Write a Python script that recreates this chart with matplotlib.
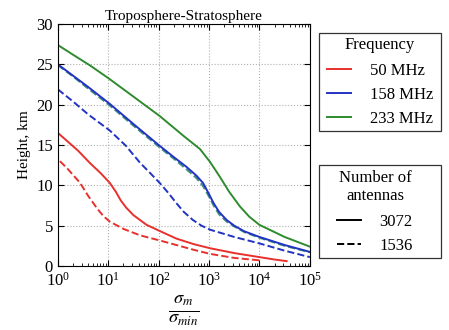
import matplotlib
matplotlib.use("Agg")
import matplotlib.pyplot as plt
from matplotlib.lines import Line2D
from matplotlib.patches import Rectangle
from matplotlib.ticker import LogLocator
import numpy as np

plt.rcParams["font.family"] = ["Liberation Serif", "DejaVu Serif"]
plt.rcParams["mathtext.fontset"] = "stix"

# log10(sigma_m / sigma_min) vs height (km)
red_solid_x = [0.0, 0.2, 0.4, 0.63, 0.85, 1.03, 1.15, 1.25, 1.36, 1.5, 1.76, 2.0,
               2.35, 2.7, 3.02, 3.5, 4.0, 4.3, 4.54]
red_solid_y = [16.5, 15.4, 14.3, 12.8, 11.5, 10.3, 9.2, 8.1, 7.2, 6.3, 5.1, 4.4,
               3.4, 2.7, 2.2, 1.6, 1.1, 0.8, 0.6]
red_dash_x = [0.04, 0.2, 0.44, 0.6, 0.77, 0.9, 1.03, 1.3, 1.63, 2.0, 2.35, 2.7,
              3.02, 3.5, 4.0]
red_dash_y = [13.0, 12.0, 10.3, 8.7, 7.2, 6.2, 5.5, 4.6, 3.8, 3.2, 2.6, 2.0,
              1.5, 1.0, 0.7]
blue_solid_x = [0.0, 0.3, 0.6, 1.03, 1.5, 2.02, 2.3, 2.55, 2.75, 2.88, 3.0, 3.09,
                3.2, 3.35, 3.5, 3.7, 4.0, 4.5, 5.0]
blue_solid_y = [25.0, 23.6, 22.2, 20.1, 17.6, 14.9, 13.5, 12.3, 11.2, 10.3, 8.9, 7.8,
                6.7, 5.7, 5.0, 4.3, 3.6, 2.6, 1.75]
blue_dash_x = [0.0, 0.3, 0.6, 1.03, 1.35, 1.63, 1.85, 2.02, 2.2, 2.35, 2.5, 2.68,
               2.85, 3.02, 3.5, 4.0, 4.5, 5.0]
blue_dash_y = [21.9, 20.4, 18.8, 16.8, 14.9, 12.8, 11.4, 10.3, 9.0, 7.8, 6.7, 5.7,
               5.0, 4.5, 3.6, 2.8, 1.9, 1.1]
green_solid_x = [0.0, 0.3, 0.63, 1.0, 1.5, 2.02, 2.5, 2.82, 3.02, 3.21, 3.4, 3.61,
                 3.8, 4.0, 4.5, 5.0]
green_solid_y = [27.4, 26.2, 24.9, 23.3, 21.0, 18.6, 16.1, 14.5, 12.9, 11.1, 9.2, 7.4,
                 6.1, 5.1, 3.6, 2.4]
green_dash_x = [0.0, 0.3, 0.6, 1.03, 1.5, 2.02, 2.3, 2.55, 2.75, 2.88, 3.0, 3.09,
                3.2, 3.35, 3.5, 3.7, 4.0, 4.5, 5.0]
green_dash_y = [24.9, 23.5, 22.0, 19.9, 17.4, 14.7, 13.3, 12.0, 10.9, 9.9, 8.6, 7.5,
                6.4, 5.5, 4.9, 4.2, 3.5, 2.5, 1.7]

freq_labels = ["50 MHz", "158 MHz", "233 MHz"]
ant_labels = ["3072", "1536"]
colors = ["#e8302c", "#2233c4", "#2e8b2e"]

W, H = 449, 330
fig = plt.figure(figsize=(W / 100, H / 100), dpi=100)
ax = fig.add_axes([0.129, 0.194, 0.561, 0.733])

series = [
    (red_solid_x, red_solid_y, colors[0], "-"),
    (red_dash_x, red_dash_y, colors[0], "--"),
    (green_dash_x, green_dash_y, "#3f8f7f", "--"),
    (blue_solid_x, blue_solid_y, colors[1], "-"),
    (blue_dash_x, blue_dash_y, colors[1], "--"),
    (green_solid_x, green_solid_y, colors[2], "-"),
]
for xs, ys, c, ls in series:
    ax.plot(10 ** np.array(xs), ys, color=c, ls=ls, lw=1.4)

ax.set_xscale("log")
ax.set_xlim(1, 1e5)
ax.set_ylim(0, 30)
ax.xaxis.set_major_locator(LogLocator(base=10, numticks=10))
ax.xaxis.set_minor_locator(LogLocator(base=10, subs=np.arange(2, 10), numticks=10))
ax.set_yticks([0, 5, 10, 15, 20, 25, 30])
ax.grid(True, which="major", ls=":", color="#b0b0b0", lw=0.8)
ax.tick_params(which="both", direction="in", top=True, right=True, labelsize=12)
ax.tick_params(axis="x", pad=4)
ax.tick_params(which="major", length=4)
ax.tick_params(which="minor", length=2)
ax.set_title("Troposphere-Stratosphere", fontsize=11, pad=3)
ax.set_ylabel("Height, km", fontsize=11, labelpad=4)
ax.set_xlabel(r"$\frac{\sigma_m}{\sigma_{min}}$", fontsize=19, labelpad=3)

# legend boxes drawn in figure pixels so both have the same width
for top, bottom in [(33, 131), (165, 258)]:
    fig.patches.append(Rectangle((319 / W, 1 - bottom / H), 122 / W, (bottom - top) / H,
                                 transform=fig.transFigure, fill=False,
                                 edgecolor="#333333", lw=0.9))

legend_kw = dict(loc="upper center", fontsize=12, title_fontsize=12, frameon=False,
                 handlelength=1.45, borderpad=0.0, borderaxespad=0.0,
                 labelspacing=0.48, handletextpad=1.1)

freq_handles = [Line2D([], [], color=c, lw=1.4) for c in colors]
leg1 = fig.legend(freq_handles, freq_labels, title="Frequency",
                  bbox_to_anchor=(380 / W, 1 - 37 / H), **legend_kw)
leg1._legend_box.sep = 7

ant_handles = [Line2D([], [], color="black", lw=1.4, ls="-"),
               Line2D([], [], color="black", lw=1.4, ls="--")]
leg2 = fig.legend(ant_handles, ant_labels, title="Number of\nantennas",
                  bbox_to_anchor=(375 / W, 1 - 170 / H), **legend_kw)
leg2.get_title().set_multialignment("center")
leg2._legend_box.sep = 7

fig.savefig("out.png", dpi=100)
